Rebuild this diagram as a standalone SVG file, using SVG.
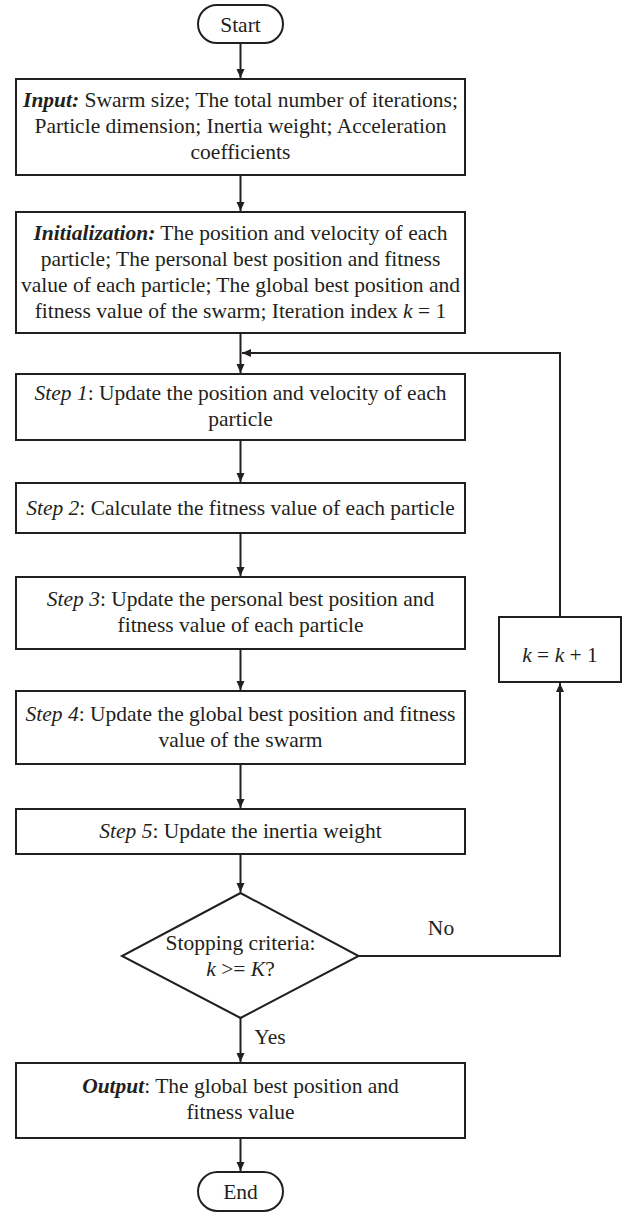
<svg xmlns="http://www.w3.org/2000/svg" width="631" height="1213" viewBox="0 0 631 1213">
<style>
.b{fill:#fff;stroke:#231f20;stroke-width:2}
.c{fill:none;stroke:#231f20;stroke-width:2}
text{font-family:"Liberation Serif","Times New Roman",serif;font-size:21.5px;fill:#231f20;text-anchor:middle}
.i{font-style:italic}
.bi{font-style:italic;font-weight:bold}
</style>
<defs>
<marker id="a" markerWidth="10" markerHeight="10" refX="9" refY="5" orient="auto" markerUnits="userSpaceOnUse">
<path d="M0,1 L9,5 L0,9 Z" fill="#231f20"/>
</marker>
</defs>
<g id="connectors">
<line class="c" x1="240.5" y1="43" x2="240.5" y2="78" marker-end="url(#a)"/>
<line class="c" x1="240.5" y1="175" x2="240.5" y2="211" marker-end="url(#a)"/>
<line class="c" x1="240.5" y1="333" x2="240.5" y2="373" marker-end="url(#a)"/>
<line class="c" x1="240.5" y1="440" x2="240.5" y2="482" marker-end="url(#a)"/>
<line class="c" x1="240.5" y1="533" x2="240.5" y2="576" marker-end="url(#a)"/>
<line class="c" x1="240.5" y1="649" x2="240.5" y2="690" marker-end="url(#a)"/>
<line class="c" x1="240.5" y1="764" x2="240.5" y2="808" marker-end="url(#a)"/>
<line class="c" x1="240.5" y1="854" x2="240.5" y2="892" marker-end="url(#a)"/>
<line class="c" x1="240.5" y1="1018" x2="240.5" y2="1062" marker-end="url(#a)"/>
<line class="c" x1="240.5" y1="1138" x2="240.5" y2="1171" marker-end="url(#a)"/>
<polyline class="c" points="358.6,956 560,956 560,683" marker-end="url(#a)"/>
<polyline class="c" points="560,617 560,353 242,353" marker-end="url(#a)"/>
<text x="441" y="935">No</text>
<text x="270" y="1044">Yes</text>
</g>
<g id="start">
<rect class="b" x="198" y="5" width="85" height="38" rx="19"/>
<text x="240.5" y="32">Start</text>
</g>
<g id="input">
<rect class="b" x="16" y="79" width="449" height="96"/>
<text x="240.5" y="107"><tspan class="bi">Input:</tspan> Swarm size; The total number of iterations;</text>
<text x="240.5" y="133">Particle dimension; Inertia weight; Acceleration</text>
<text x="240.5" y="159">coefficients</text>
</g>
<g id="init">
<rect class="b" x="16" y="212" width="449" height="121"/>
<text x="240.5" y="240"><tspan class="bi">Initialization:</tspan> The position and velocity of each</text>
<text x="240.5" y="266">particle; The personal best position and fitness</text>
<text x="240.5" y="292">value of each particle; The global best position and</text>
<text x="240.5" y="318">fitness value of the swarm; Iteration index <tspan class="i">k</tspan> = 1</text>
</g>
<g id="step1">
<rect class="b" x="16" y="374" width="449" height="66"/>
<text x="240.5" y="400"><tspan class="i">Step 1</tspan>: Update the position and velocity of each</text>
<text x="240.5" y="426">particle</text>
</g>
<g id="step2">
<rect class="b" x="16" y="483" width="449" height="50"/>
<text x="240.5" y="515"><tspan class="i">Step 2</tspan>: Calculate the fitness value of each particle</text>
</g>
<g id="step3">
<rect class="b" x="16" y="577" width="449" height="72"/>
<text x="240.5" y="606"><tspan class="i">Step 3</tspan>: Update the personal best position and</text>
<text x="240.5" y="632">fitness value of each particle</text>
</g>
<g id="step4">
<rect class="b" x="16" y="691" width="449" height="73"/>
<text x="240.5" y="721"><tspan class="i">Step 4</tspan>: Update the global best position and fitness</text>
<text x="240.5" y="747">value of the swarm</text>
</g>
<g id="step5">
<rect class="b" x="16" y="809" width="449" height="45"/>
<text x="240.5" y="838"><tspan class="i">Step 5</tspan>: Update the inertia weight</text>
</g>
<g id="decision">
<polygon class="b" points="240.5,893 358.6,956 240.5,1018 122,956"/>
<text x="240.5" y="950">Stopping criteria:</text>
<text x="240.5" y="976"><tspan class="i">k</tspan> &gt;= <tspan class="i">K</tspan>?</text>
</g>
<g id="increment">
<rect class="b" x="499" y="617" width="122" height="65"/>
<text x="560" y="662"><tspan class="i">k</tspan> = <tspan class="i">k</tspan> + 1</text>
</g>
<g id="output">
<rect class="b" x="16" y="1063" width="449" height="75"/>
<text x="240.5" y="1093"><tspan class="bi">Output</tspan>: The global best position and</text>
<text x="240.5" y="1119">fitness value</text>
</g>
<g id="end">
<rect class="b" x="198" y="1172" width="85" height="39" rx="19.5"/>
<text x="240.5" y="1199">End</text>
</g>
</svg>
